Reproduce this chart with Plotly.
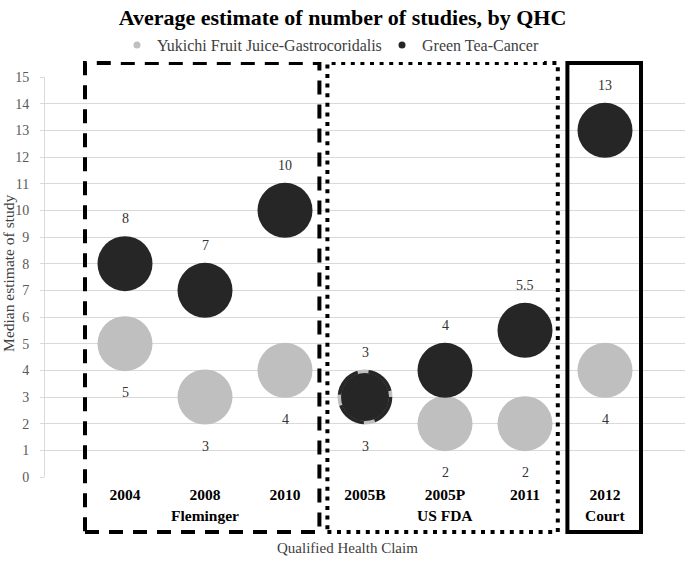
import plotly.graph_objects as go

categories = ["2004", "2008", "2010", "2005B", "2005P", "2011", "2012"]
yukichi = [5, 3, 4, 3, 2, 2, 4]
green_tea = [8, 7, 10, 3, 4, 5.5, 13]
yukichi_labels = ["5", "3", "4", "3", "2", "2", "4"]
green_labels = ["8", "7", "10", "3", "4", "5.5", "13"]
groups = ["Fleminger", "US FDA", "Court"]
group_members = [[0, 1, 2], [3, 4, 5], [6]]
y_ticks = list(range(0, 16))

GRAY = "#bfbfbf"
DARK = "#262626"
FONT = "Liberation Serif"
BUBBLE = 55

xpos = list(range(1, len(categories) + 1))

fig = go.Figure()

# gray bubbles
fig.add_trace(go.Scatter(
    x=xpos, y=yukichi, mode="markers",
    marker=dict(size=BUBBLE, color=GRAY, opacity=1, line=dict(width=0)),
    showlegend=False, hoverinfo="skip"))

# dark bubbles (the one overlapping a gray bubble is drawn smaller, with a dashed ring)
overlap = [i for i in range(len(categories)) if yukichi[i] == green_tea[i]]
sizes = [BUBBLE - 7 if i in overlap else BUBBLE for i in range(len(categories))]
fig.add_trace(go.Scatter(
    x=xpos, y=green_tea, mode="markers",
    marker=dict(size=sizes, color=DARK, opacity=1, line=dict(width=0)),
    showlegend=False, hoverinfo="skip"))

shapes = []
for i in overlap:
    r = BUBBLE / 2 - 2
    shapes.append(dict(type="circle", xref="x", yref="y",
                       xsizemode="pixel", ysizemode="pixel",
                       xanchor=xpos[i], yanchor=green_tea[i],
                       x0=-r, x1=r, y0=-r, y1=r,
                       line=dict(color=DARK, width=3.5, dash="30px,11px")))

# legend entries
fig.add_trace(go.Scatter(x=[None], y=[None], mode="markers",
                         marker=dict(size=7, color=GRAY),
                         name="Yukichi Fruit Juice-Gastrocoridalis",
                         legendwidth=220))
fig.add_trace(go.Scatter(x=[None], y=[None], mode="markers",
                         marker=dict(size=7, color=DARK),
                         name="Green Tea-Cancer"))

annotations = []
for i in range(len(categories)):
    annotations.append(dict(x=xpos[i], y=green_tea[i], text=green_labels[i],
                            showarrow=False, yshift=45,
                            xanchor="center", yanchor="middle",
                            font=dict(family=FONT, size=14, color="#333333")))
    annotations.append(dict(x=xpos[i], y=yukichi[i], text=yukichi_labels[i],
                            showarrow=False, yshift=-49,
                            xanchor="center", yanchor="middle",
                            font=dict(family=FONT, size=14, color="#333333")))

# group labels
for g, members in zip(groups, group_members):
    cx = sum(xpos[m] for m in members) / len(members)
    annotations.append(dict(x=cx, y=-0.096, xref="x", yref="paper",
                            xanchor="center", yanchor="middle",
                            text="<b>" + g + "</b>", showarrow=False,
                            font=dict(family=FONT, size=15.5, color="#000000")))

# axis titles
annotations.append(dict(x=0.472, y=-0.1775, xref="paper", yref="paper",
                        xanchor="center", yanchor="middle", showarrow=False,
                        text="Qualified Health Claim",
                        font=dict(family=FONT, size=15, color="#404040")))
annotations.append(dict(x=-0.058, y=0.51, xref="paper", yref="paper",
                        xanchor="center", yanchor="middle", showarrow=False,
                        textangle=-90, text="Median estimate of study",
                        font=dict(family=FONT, size=15.5, color="#404040")))

# group boxes
box_x = [(0.5, 3.43), (3.53, 6.41), (6.53, 7.45)]
box_dash = ["14px,10px", "4px,5.6px", "solid"]
for (x0, x1), d in zip(box_x, box_dash):
    shapes.append(dict(type="rect", xref="x", yref="paper",
                       x0=x0, x1=x1, y0=-0.1375, y1=1.035,
                       line=dict(color="#000000", width=4, dash=d),
                       fillcolor="rgba(0,0,0,0)", layer="above"))

fig.update_layout(
    width=685, height=561,
    margin=dict(l=45, r=0, t=77, b=84),
    paper_bgcolor="white", plot_bgcolor="white",
    font=dict(family=FONT, color="#000000"),
    title=dict(text="<b>Average estimate of number of studies, by QHC</b>",
               x=0.5, xanchor="center", y=1 - 17 / 561, yanchor="middle",
               font=dict(family=FONT, size=22, color="#000000")),
    legend=dict(orientation="h", xref="container", yref="container",
                x=117 / 685, xanchor="left", y=1 - 45 / 561, yanchor="middle",
                font=dict(family=FONT, size=16, color="#404040"),
                tracegroupgap=0),
    xaxis=dict(range=[0, 8], tickvals=xpos,
               ticktext=["<b>" + c + "</b>" for c in categories],
               showgrid=False, zeroline=False, showline=False, ticks="",
               ticklabelstandoff=6,
               tickfont=dict(family=FONT, size=15.5, color="#000000")),
    yaxis=dict(range=[0, 15], tickvals=y_ticks, showgrid=True,
               gridcolor="#d9d9d9", gridwidth=1, zeroline=False,
               showline=True, linecolor="#d9d9d9", ticks="outside",
               ticklen=4, tickcolor="#d9d9d9", ticklabelstandoff=8,
               tickfont=dict(family=FONT, size=14, color="#595959")),
    shapes=shapes,
    annotations=annotations,
)

fig.write_html("out.html", config={"displayModeBar": False},
               post_script="document.body.style.margin='0';")
